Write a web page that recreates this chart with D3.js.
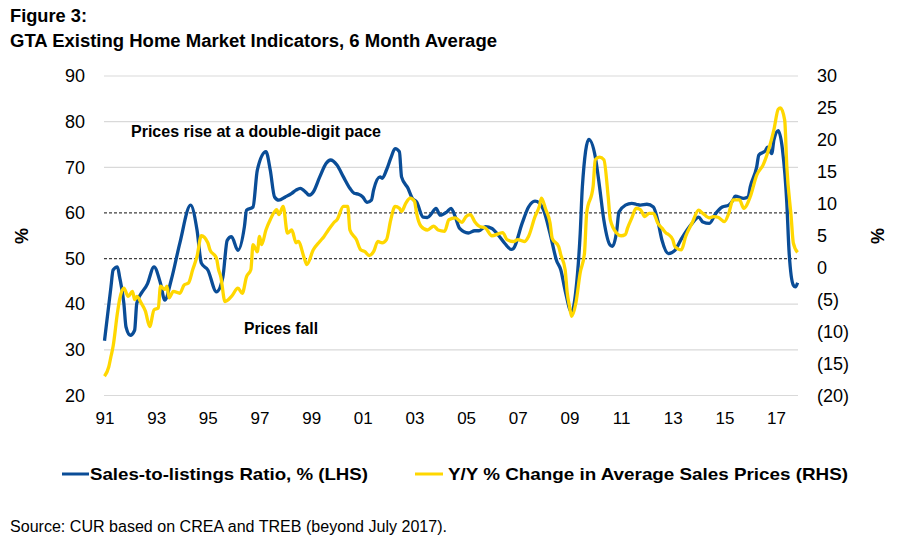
<!DOCTYPE html>
<html><head><meta charset="utf-8">
<script src="https://cdn.jsdelivr.net/npm/d3@7"></script>
<style>body{margin:0;background:#fff}svg{display:block}text{font-family:"Liberation Sans",Arial,sans-serif;fill:#000}</style>
</head><body><svg id="c" width="902" height="543"></svg>
<script>
// months since Jan 1991
const ratioMonths = [0,3,4,6,7,9,10,12,14,15,20,23,26,28,31,35,40,43,45,48,52,55,57,59,62,65,66,69,71,75,77,79,81,84,87,89,91,94,95,97,100,103,105,108,111,114,116,118,120,122,124,125,128,129,131,133,135,137,138,141,143,145,148,150,152,154,156,159,161,163,165,169,172,174,177,180,183,186,189,190,194,197,200,202,204,207,210,212,214,217,219,221,222,225,228,230,232,235,236,238,239,242,245,247,249,252,255,257,259,262,265,268,273,276,278,281,284,287,290,292,293,297,299,300,303,304,307,308,310,311,313,315,317,318,320,321,322];
const ratioValues = [32,43.8,47.5,48.2,46,40.2,35,33.2,34.3,40.2,44.5,48.2,44.6,40.9,45.3,53.4,61.7,56.2,49,47.5,42.7,46,54,54.8,51.8,57,60.6,61.3,69.4,73.4,69.4,63.5,62.8,63.5,64.3,65,65.4,64.3,63.9,64.6,67.9,70.9,71.6,70.5,67.9,65.4,64.3,64.1,63.5,62.3,62.8,65,67.9,67.6,69.4,72,74.1,73.4,67.9,65.4,63.2,62.4,59.1,59,59.9,61,59.5,60.2,61,59.1,56.6,55.6,56.1,56.1,57,56.6,55.1,53.3,52,52.2,57.7,61.3,62.6,62.2,60.6,55.5,49.6,47.5,43,38.3,43,55.5,65.7,76.1,72.3,65.7,58.4,52.9,52.7,56.2,60.2,61.7,62.1,61.9,61.7,61.9,61.3,58.4,54,51.1,51.8,54.3,57.7,59.1,58,57.7,59.9,61.3,61.7,62.8,63.7,63.2,63.5,65.7,70.1,72.7,73.6,74.4,73,76,78,73.8,62.1,51.8,44.2,43.8,44.7];
const priceMonths = [0,2,3,4,6,7,9,11,13,14,15,17,19,21,23,25,26,28,29,30,32,35,37,39,41,43,45,48,49,52,53,54,56,59,62,64,66,68,69,71,72,73,75,77,80,81,83,85,87,89,90,93,94,97,100,102,104,107,108,111,113,114,117,119,121,123,125,127,129,131,133,135,137,138,140,142,144,145,147,150,153,155,158,160,163,166,168,170,172,174,177,180,183,185,187,190,192,195,197,200,202,203,205,207,208,211,212,214,215,216,217,219,221,223,224,227,228,230,232,234,235,238,240,242,243,245,247,249,251,253,255,257,259,261,262,264,265,268,270,273,276,278,281,283,285,288,290,292,295,297,300,303,306,309,311,313,314,316,317,319,320,322];
const priceValues = [-17,-15.5,-13.9,-12.3,-7.1,-5,-3.2,-4.5,-3.7,-5,-4.5,-5.5,-6.8,-9.2,-6.6,-6.3,-2.9,-3.4,-2.9,-4.7,-3.7,-4,-2.7,-2.4,-0.3,1.8,5,3.9,2.8,1.5,-0.3,-1.4,-5.3,-4.5,-3.2,-4,-1.4,-0.3,3.6,2.5,4.9,3.6,5.9,7.5,9.1,8.3,9.6,5.4,5.9,3.9,4.1,1.3,0.5,2.8,4.1,4.9,5.9,7.2,7.5,9.6,9.6,5.9,4.4,2.8,2.5,1.9,2.5,4.1,3.9,4.4,7.5,9.6,9.3,8.8,10.1,10.9,10.4,8.5,6.5,5.9,6.5,5.9,5.7,7.5,7.8,7.1,8,8.3,7.2,6.5,6.2,5,5.3,5.5,4.4,4.1,4.4,4.1,4.9,8,9.6,10.9,9.1,7,4.6,3.3,2,-0.3,-4,-6,-7.6,-5.5,-0.8,2.3,8.5,12.7,16.9,17.3,16.9,11.1,7.5,5.4,5,5.2,6.2,7.8,9.3,9.1,8,8.5,8.5,7,6.2,5.4,5.2,4.4,3.3,2.8,4.9,7,9,8.5,7.8,8,7.9,7.2,8.5,10.6,10.6,9.3,11.1,14.5,16.1,19,21.6,24.8,25,23.1,15.8,8,3.9,2.4];
const leftTicks = [20,30,40,50,60,70,80,90];
const dashedLevels = [50,60];
const rightTicks = [-20,-15,-10,-5,0,5,10,15,20,25,30];
const yearTicks = [1991,1993,1995,1997,1999,2001,2003,2005,2007,2009,2011,2013,2015,2017];

const svg = d3.select("#c");
const L = 104, R = 798, T = 76, B = 395.5;
const x = d3.scaleLinear().domain([0, 322]).range([104.5, 797.6]);
const yL = d3.scaleLinear().domain([20, 90]).range([B, T]);
const yR = d3.scaleLinear().domain([-20, 30]).range([B, T]);

// grid
svg.append("g").selectAll("line").data(leftTicks.filter(d => !dashedLevels.includes(d))).join("line")
  .attr("x1", L).attr("x2", R).attr("y1", d => yL(d)).attr("y2", d => yL(d))
  .attr("stroke", "#d9d9d9").attr("stroke-width", 1.2);
svg.append("g").selectAll("line").data(dashedLevels).join("line")
  .attr("x1", L).attr("x2", R).attr("y1", d => yL(d)).attr("y2", d => yL(d))
  .attr("stroke", "#404040").attr("stroke-width", 1.2).attr("stroke-dasharray", "3,2");

// axes labels
const axL = d3.axisLeft(yL).tickValues(leftTicks).tickSize(0).tickPadding(0);
const gL = svg.append("g").attr("transform", `translate(85,0)`).call(axL);
gL.select(".domain").remove();
gL.selectAll("text").attr("font-size", 18).attr("font-family", '"Liberation Sans",Arial,sans-serif').attr("fill", "#000");

const axR = d3.axisRight(yR).tickValues(rightTicks).tickSize(0).tickPadding(0)
  .tickFormat(d => d < 0 ? `(${-d})` : `${d}`);
const gR = svg.append("g").attr("transform", `translate(817,0)`).call(axR);
gR.select(".domain").remove();
gR.selectAll("text").attr("font-size", 18).attr("font-family", '"Liberation Sans",Arial,sans-serif').attr("fill", "#000");

const axX = d3.axisBottom(x).tickValues(yearTicks.map(yv => (yv - 1991) * 12)).tickSize(0).tickPadding(0)
  .tickFormat(m => String(1991 + m / 12).slice(2));
const gX = svg.append("g").attr("transform", `translate(0,412)`).call(axX);
gX.select(".domain").remove();
gX.selectAll("text").attr("font-size", 17).attr("font-family", '"Liberation Sans",Arial,sans-serif').attr("fill", "#000");

svg.append("text").attr("transform", "translate(28,236) rotate(-90)").attr("text-anchor", "middle")
  .attr("font-size", 18).attr("font-weight", "bold").text("%");
svg.append("text").attr("transform", "translate(884,236) rotate(-90)").attr("text-anchor", "middle")
  .attr("font-size", 18).attr("font-weight", "bold").text("%");

// lines
const ratioData = ratioMonths.map((m, i) => [m, ratioValues[i]]);
const priceData = priceMonths.map((m, i) => [m, priceValues[i]]);
svg.append("path").datum(ratioData).attr("fill", "none").attr("stroke", "#0a4d97").attr("stroke-width", 3.3)
  .attr("stroke-linejoin", "round")
  .attr("d", d3.line().x(d => x(d[0])).y(d => yL(d[1])).curve(d3.curveMonotoneX));
svg.append("path").datum(priceData).attr("fill", "none").attr("stroke", "#ffd700").attr("stroke-width", 3.3)
  .attr("stroke-linejoin", "round")
  .attr("d", d3.line().x(d => x(d[0])).y(d => yR(d[1])).curve(d3.curveMonotoneX));

// annotations
svg.append("text").attr("x", 131).attr("y", 137).attr("font-size", 16).attr("font-weight", "bold")
  .attr("textLength", 250).attr("lengthAdjust", "spacingAndGlyphs").text("Prices rise at a double-digit pace");
svg.append("text").attr("x", 244).attr("y", 334).attr("font-size", 16).attr("font-weight", "bold")
  .attr("textLength", 74).attr("lengthAdjust", "spacingAndGlyphs").text("Prices fall");

// title
svg.append("text").attr("x", 10).attr("y", 22).attr("font-size", 18).attr("font-weight", "bold")
  .attr("textLength", 77).attr("lengthAdjust", "spacingAndGlyphs").text("Figure 3:");
svg.append("text").attr("x", 10).attr("y", 47).attr("font-size", 18).attr("font-weight", "bold")
  .attr("textLength", 487).attr("lengthAdjust", "spacingAndGlyphs").text("GTA Existing Home Market Indicators, 6 Month Average");

// legend
svg.append("line").attr("x1", 62).attr("x2", 89).attr("y1", 474).attr("y2", 474).attr("stroke", "#0a4d97").attr("stroke-width", 3);
svg.append("text").attr("x", 90).attr("y", 480).attr("font-size", 17).attr("font-weight", "bold")
  .attr("textLength", 278).attr("lengthAdjust", "spacingAndGlyphs").text("Sales-to-listings Ratio, % (LHS)");
svg.append("line").attr("x1", 415).attr("x2", 443).attr("y1", 474).attr("y2", 474).attr("stroke", "#ffd700").attr("stroke-width", 3);
svg.append("text").attr("x", 448).attr("y", 480).attr("font-size", 17).attr("font-weight", "bold")
  .attr("textLength", 400).attr("lengthAdjust", "spacingAndGlyphs").text("Y/Y % Change in Average Sales Prices (RHS)");

// source
svg.append("text").attr("x", 10).attr("y", 532).attr("font-size", 16)
  .attr("textLength", 437).attr("lengthAdjust", "spacingAndGlyphs").text("Source: CUR based on CREA and TREB (beyond July 2017).");
</script></body></html>
